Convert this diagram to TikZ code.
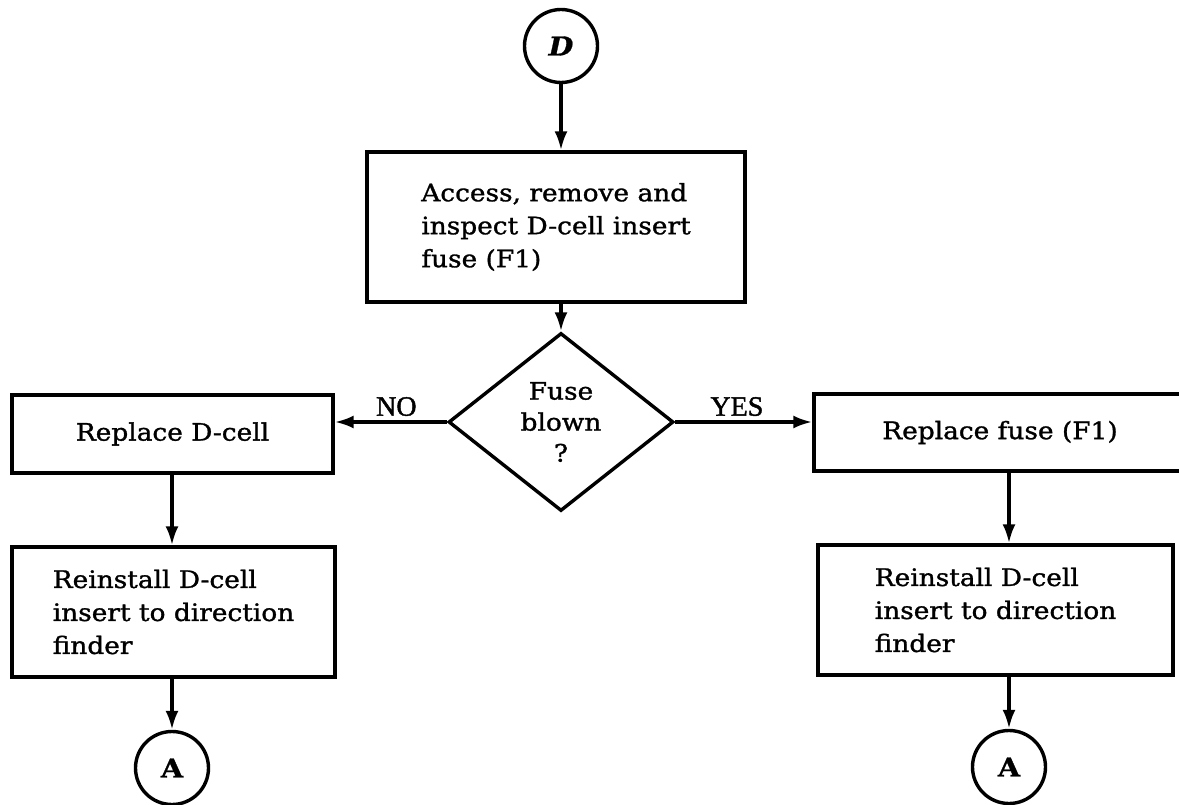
\documentclass[tikz,border=0pt]{standalone}
\usepackage{fontspec}
\setmainfont{DejaVu Serif}[FakeStretch=1.1,FakeBold=1.2]
\newfontfamily\labelfont{Liberation Serif}[FakeBold=1.5]
\usetikzlibrary{shapes.geometric,arrows.meta}

\begin{document}
\begin{tikzpicture}[x=1pt,y=-1pt,
  every node/.style={font=\fontsize{24}{33}\selectfont},
  stepbox/.style={draw,line width=3.4pt,rectangle,inner sep=0pt,align=left},
  connector/.style={draw,line width=3.4pt,circle,inner sep=0pt,minimum size=73pt,
    font=\fontsize{26}{28}\selectfont\bfseries},
  decision/.style={draw,line width=3.4pt,diamond,inner sep=0pt,
    minimum width=225pt,minimum height=178pt,align=center,
    font=\fontsize{24}{31}\selectfont},
  flow/.style={line width=3.4pt,-{Latex[length=19pt,width=13pt]}},
  branch/.style={font=\fontsize{28}{30}\selectfont\labelfont}
]
\useasboundingbox (0,0) rectangle (1179,805);
\clip (0,0) rectangle (1179,805);

% entry connector and first step
\node[connector] (D) at (561,46) {\itshape D};
\node[stepbox,minimum width=378pt,minimum height=150pt] (inspect) at (556,227)
  {Access, remove and\\inspect D-cell insert\\fuse (F1)};

% decision
\node[decision] (blown) at (561,422) {Fuse\\blown\\?};

% NO branch
\node[stepbox,minimum width=321pt,minimum height=78pt] (celldrop) at (172.5,434)
  {Replace D-cell};
\node[stepbox,minimum width=323pt,minimum height=130pt] (reinstL) at (173.5,612)
  {Reinstall D-cell\\insert to direction\\finder};
\node[connector] (AL) at (172,768) {A};

% YES branch
\node[stepbox,minimum width=372pt,minimum height=77pt] (fuse) at (1000,432.5)
  {Replace fuse (F1)};
\node[stepbox,minimum width=355pt,minimum height=130pt] (reinstR) at (995.5,610)
  {Reinstall D-cell\\insert to direction\\finder};
\node[connector] (AR) at (1009,767) {A};

% connectors
\draw[flow] (D) -- (D |- inspect.north);
\draw[flow] (blown |- inspect.south) -- (blown.north);
\draw[flow] (blown.west) -- (blown.west -| celldrop.east)
  node[branch,pos=0.45,above=1pt] {NO};
\draw[flow] (blown.east) -- (blown.east -| fuse.west)
  node[branch,pos=0.45,above=1pt] {YES};
\draw[flow] (AL |- celldrop.south) -- (AL |- reinstL.north);
\draw[flow] (AL |- reinstL.south) -- (AL);
\draw[flow] (AR |- fuse.south) -- (AR |- reinstR.north);
\draw[flow] (AR |- reinstR.south) -- (AR);
\end{tikzpicture}
\end{document}
